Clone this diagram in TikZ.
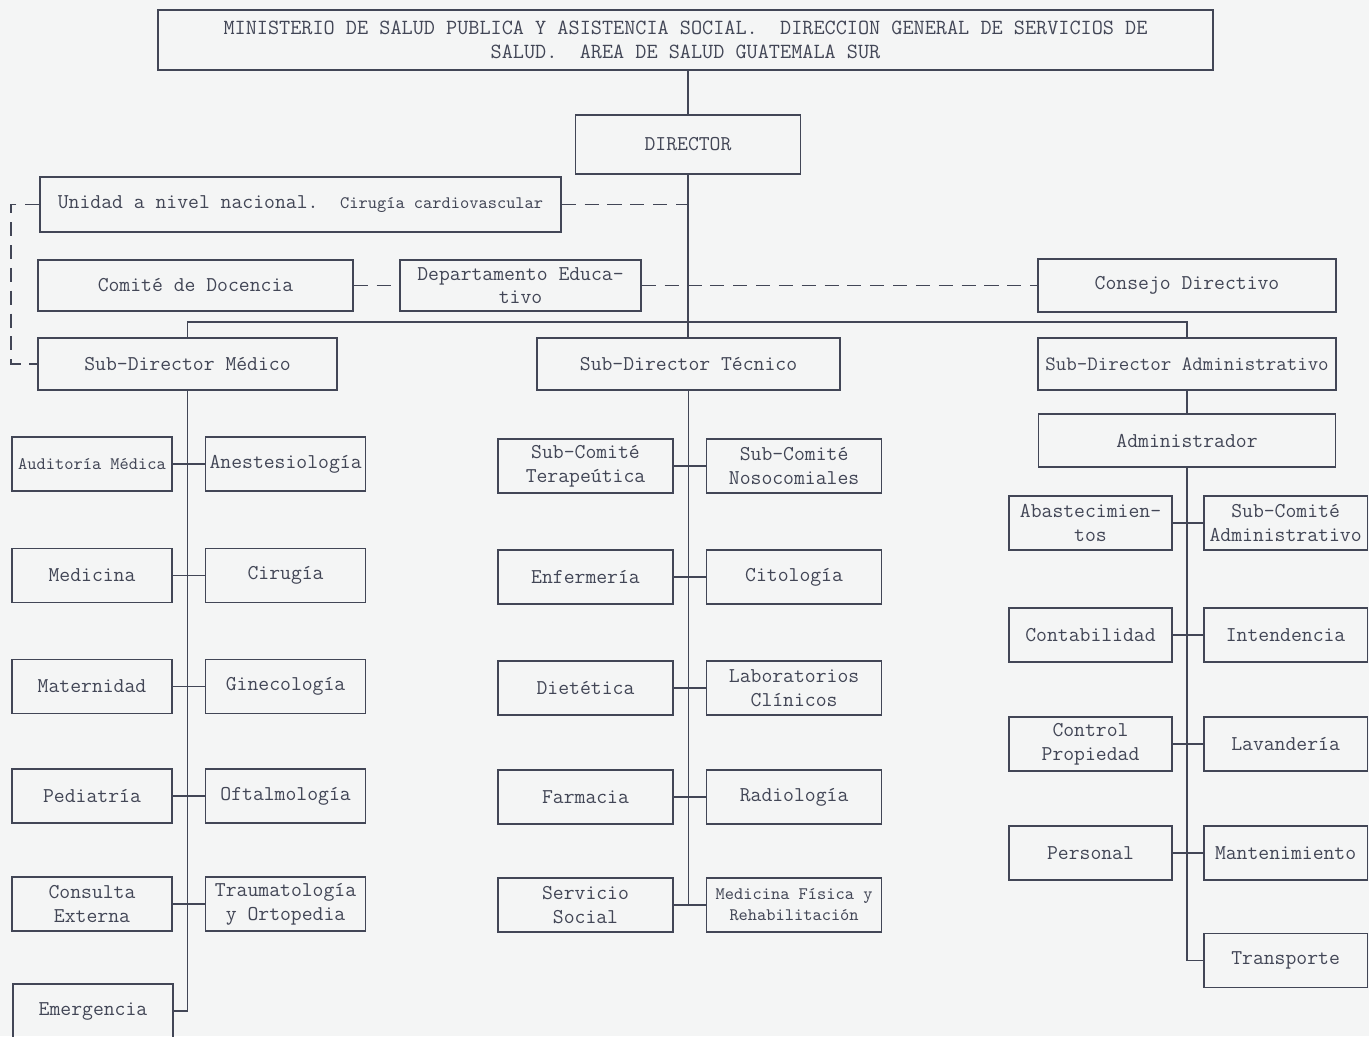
\documentclass[tikz,border=0pt]{standalone}
\usepackage{fontspec}
\usetikzlibrary{positioning}
\definecolor{ink}{RGB}{66,70,86}
\definecolor{paper}{RGB}{244,245,245}
\tikzstyle{unit}=[draw=ink, line width=0.9pt, text=ink, font=\ttfamily\fontsize{12}{13.5}\selectfont, align=center, inner sep=1pt, minimum height=10.8mm]
\tikzstyle{med}=[unit, minimum width=32mm]
\tikzstyle{tec}=[unit, minimum width=35mm]
\tikzstyle{adm}=[unit, minimum width=32.7mm]
\tikzstyle{narrow}=[font=\ttfamily\fontsize{10}{12}\selectfont]
\tikzstyle{tie}=[draw=ink, line width=0.9pt]
\tikzstyle{link}=[tie, dash pattern=on 8pt off 5pt]
\frenchspacing

\begin{document}
\begin{tikzpicture}[x=0.2mm,y=-0.2mm,node distance=6.4mm]
  \clip (0,0) rectangle (1369,1036);
  \fill [paper] (0,0) rectangle (1369,1036);

  % head of the chart
  \node [unit, minimum width=211mm, minimum height=12mm, font=\ttfamily\fontsize{12.3}{13.6}\selectfont] (title) at (685.5,40) {MINISTERIO DE SALUD PUBLICA Y ASISTENCIA SOCIAL.~ DIRECCION GENERAL DE SERVICIOS DE\\SALUD.~ AREA DE SALUD GUATEMALA SUR};
  \node [unit, minimum width=45mm, minimum height=11.8mm] (dir) at (688,144.5) {DIRECTOR};
  \node [unit, minimum width=104.2mm, minimum height=11mm] (unidad) at (300.5,204.5) {Unidad a nivel nacional.~ {\fontsize{10}{12}\selectfont Cirugía cardiovascular}};
  \node [unit, minimum width=63mm, minimum height=10.2mm] (doc) at (195.5,285.5) {Comité de Docencia};
  \node [unit, minimum width=48.2mm, minimum height=10.2mm] (edu) at (520.5,285.5) {Departamento Educa-\\tivo};
  \node [unit, minimum width=59.6mm, minimum height=10.6mm] (cons) at (1187,285.5) {Consejo Directivo};
  \node [unit, minimum width=59.8mm, minimum height=10.4mm] (sdm) at (187.5,364) {Sub-Director Médico};
  \node [unit, minimum width=60.6mm, minimum height=10.4mm] (sdt) at (688.5,364) {Sub-Director Técnico};
  \node [unit, minimum width=59.6mm, minimum height=10.4mm, font=\ttfamily\fontsize{11.6}{13}\selectfont] (sda) at (1187,364) {Sub-Director Administrativo};
  \node [unit, minimum width=59.4mm, minimum height=10.6mm] (adm) at (1187,440.5) {Administrador};

  % medical branch
  \node [med, narrow] (m1) at (92,464) {Auditoría Médica};
  \node [med, right=of m1] (m2) {Anestesiología};
  \node [med] (m3) at (92,575.5) {Medicina};
  \node [med, right=of m3] (m4) {Cirugía};
  \node [med] (m5) at (92,686.5) {Maternidad};
  \node [med, right=of m5] (m6) {Ginecología};
  \node [med] (m7) at (92,796) {Pediatría};
  \node [med, right=of m7] (m8) {Oftalmología};
  \node [med] (m9) at (92,904) {Consulta\\Externa};
  \node [med, right=of m9] (m10) {Traumatología\\y Ortopedia};
  \node [med] (m11) at (93,1011) {Emergencia};

  % technical branch
  \node [tec] (t1) at (585.5,466) {Sub-Comité\\Terapeútica};
  \node [tec, right=of t1] (t2) {Sub-Comité\\Nosocomiales};
  \node [tec] (t3) at (585.5,577) {Enfermería};
  \node [tec, right=of t3] (t4) {Citología};
  \node [tec] (t5) at (585.5,688) {Dietética};
  \node [tec, right=of t5] (t6) {Laboratorios\\Clínicos};
  \node [tec] (t7) at (585.5,797) {Farmacia};
  \node [tec, right=of t7] (t8) {Radiología};
  \node [tec] (t9) at (585.5,905) {Servicio\\Social};
  \node [tec, narrow, right=of t9] (t10) {Medicina Física y\\Rehabilitación};

  % administrative branch
  \node [adm] (a1) at (1090.5,523) {Abastecimien-\\tos};
  \node [adm, right=6mm of a1] (a2) {Sub-Comité\\Administrativo};
  \node [adm] (a3) at (1090.5,635) {Contabilidad};
  \node [adm, right=6mm of a3] (a4) {Intendencia};
  \node [adm] (a5) at (1090.5,744) {Control\\Propiedad};
  \node [adm, right=6mm of a5] (a6) {Lavandería};
  \node [adm] (a7) at (1090.5,853) {Personal};
  \node [adm, right=6mm of a7] (a8) {Mantenimiento};
  \node [adm, below=10.4mm of a8] (a9) {Transporte};

  \coordinate (bar) at (688,322);

  \draw [tie] (dir.north) -- (dir.north |- title.south);
  \draw [tie] (dir.south) -- (dir.south |- sdt.north);
  \draw [tie] (sdm.north) |- (bar) -| (sda.north);
  \draw [link] (unidad.east) -- (unidad.east -| dir.south);
  \draw [link] (unidad.west) -- ++(-28,0) |- (sdm.west);
  \draw [link] (doc.east) -- (edu.west);
  \draw [link] (edu.east) -- (cons.west);

  \draw [tie] (sdm.south) |- (m11.east);
  \draw [tie] (m1.east) -- (m2.west);
  \draw [tie] (m3.east) -- (m4.west);
  \draw [tie] (m5.east) -- (m6.west);
  \draw [tie] (m7.east) -- (m8.west);
  \draw [tie] (m9.east) -- (m10.west);

  \draw [tie] (sdt.south) -- (sdt.south |- t9.east);
  \draw [tie] (t1.east) -- (t2.west);
  \draw [tie] (t3.east) -- (t4.west);
  \draw [tie] (t5.east) -- (t6.west);
  \draw [tie] (t7.east) -- (t8.west);
  \draw [tie] (t9.east) -- (t10.west);

  \draw [tie] (sda.south) -- (adm.north);
  \draw [tie] (adm.south) |- (a9.west);
  \draw [tie] (a1.east) -- (a2.west);
  \draw [tie] (a3.east) -- (a4.west);
  \draw [tie] (a5.east) -- (a6.west);
  \draw [tie] (a7.east) -- (a8.west);
\end{tikzpicture}
\end{document}
